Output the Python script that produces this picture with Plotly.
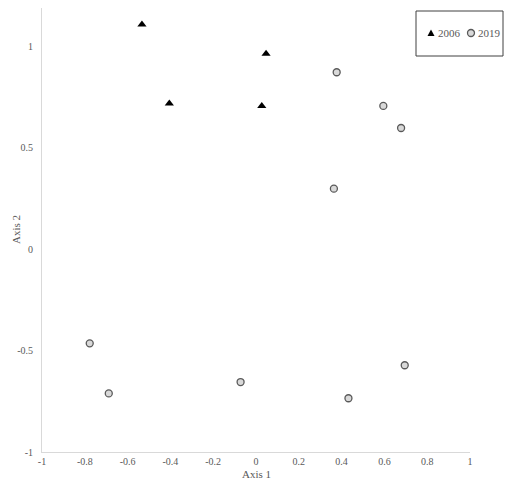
import plotly.graph_objects as go

# Dados
x_2006 = [-0.533, -0.405, 0.047, 0.027]
y_2006 = [1.108, 0.719, 0.964, 0.707]

x_2019 = [0.377, 0.595, 0.678, 0.364, -0.777, -0.688, -0.072, 0.432, 0.695]
y_2019 = [0.873, 0.707, 0.598, 0.299, -0.464, -0.711, -0.655, -0.735, -0.572]

x_ticks = [-1, -0.8, -0.6, -0.4, -0.2, 0, 0.2, 0.4, 0.6, 0.8, 1]
x_labels = ['-1', '-0.8', '-0.6', '-0.4', '-0.2', '0', '0.2', '0.4', '0.6', '0.8', '1']
y_ticks = [-1, -0.5, 0, 0.5, 1]
y_labels = ['-1', '-0.5', '0', '0.5', '1']

FONTE = "Liberation Serif, Times New Roman, serif"
CINZA = '#595959'

fig = go.Figure()

fig.add_trace(go.Scatter(
    x=x_2006, y=y_2006, mode='markers', name='2006',
    marker=dict(symbol='triangle-up', size=8, color='black'),
    showlegend=False
))
fig.add_trace(go.Scatter(
    x=x_2019, y=y_2019, mode='markers', name='2019',
    marker=dict(symbol='circle', size=7, color='#d9d9d9',
                line=dict(color=CINZA, width=1.3)),
    showlegend=False
))

# Área do gráfico em pixels da página (a página tem margem de 8 px no body)
L, R, T, B = 42, 470, 8, 452
OFF = 8
LARGURA, ALTURA = 512 - 2 * OFF, 488 - 2 * OFF


def px_x(p):
    return (p - L) / (R - L)


def px_y(p):
    return (B - p) / (B - T)


# Legenda desenhada à mão (caixa + símbolos + textos)
shapes = [
    dict(type='rect', xref='paper', yref='paper',
         x0=px_x(416), x1=px_x(503), y0=px_y(56), y1=px_y(11),
         line=dict(color='#404040', width=1), fillcolor='white', layer='below'),
    dict(type='path', xref='paper', yref='paper', xsizemode='pixel', ysizemode='pixel',
         xanchor=px_x(431), yanchor=px_y(33),
         path='M -3.5 -3 L 3.5 -3 L 0 3.5 Z', fillcolor='black', line=dict(width=0)),
    dict(type='circle', xref='paper', yref='paper', xsizemode='pixel', ysizemode='pixel',
         xanchor=px_x(471), yanchor=px_y(33), x0=-3.5, x1=3.5, y0=-3.5, y1=3.5,
         fillcolor='#d9d9d9', line=dict(color=CINZA, width=1.3)),
]

fonte_txt = dict(family=FONTE, size=11, color=CINZA)
annotations = [
    dict(text='2006', xref='paper', yref='paper', x=px_x(436), y=px_y(33),
         xanchor='left', yanchor='middle', showarrow=False, font=fonte_txt),
    dict(text='2019', xref='paper', yref='paper', x=px_x(476), y=px_y(33),
         xanchor='left', yanchor='middle', showarrow=False, font=fonte_txt),
    # Títulos dos eixos
    dict(text='Axis 1', xref='paper', yref='paper', x=0.5, y=px_y(474),
         xanchor='center', yanchor='middle', showarrow=False, font=fonte_txt),
    dict(text='Axis 2', xref='paper', yref='paper', x=px_x(16), y=0.5,
         xanchor='center', yanchor='middle', textangle=-90, showarrow=False, font=fonte_txt),
]

fig.update_layout(
    width=LARGURA, height=ALTURA,
    margin=dict(l=L - OFF, r=LARGURA - (R - OFF), t=T - OFF, b=ALTURA - (B - OFF)),
    plot_bgcolor='white', paper_bgcolor='white',
    font=dict(family=FONTE, size=10, color=CINZA),
    shapes=shapes, annotations=annotations,
    xaxis=dict(
        range=[-1, 1], tickvals=x_ticks, ticktext=x_labels, automargin=False,
        showgrid=False, zeroline=False, showline=True, linecolor='#d9d9d9', linewidth=1,
        ticks='', ticklabelstandoff=0, tickfont=dict(family=FONTE, size=10, color=CINZA),
    ),
    yaxis=dict(
        range=[-1, 1.19], tickvals=y_ticks, ticktext=y_labels, automargin=False,
        showgrid=False, zeroline=False, showline=True, linecolor='#d9d9d9', linewidth=1,
        ticks='', ticklabelstandoff=6, tickfont=dict(family=FONTE, size=10, color=CINZA),
    ),
)

fig.write_html("out.html")
